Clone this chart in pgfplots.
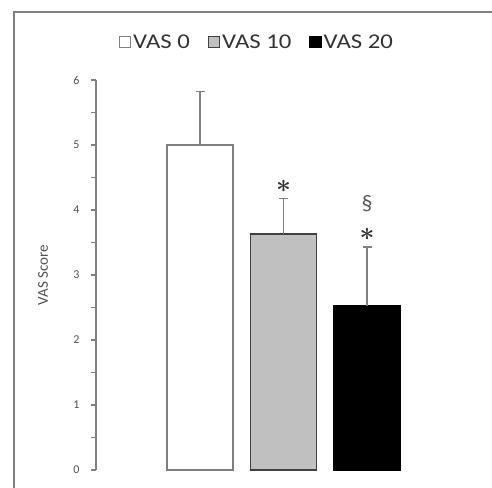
\documentclass[border=0pt]{standalone}
\usepackage{pgfplots}
\pgfplotsset{compat=1.18}
\usepackage{graphicx}
\usepackage{fontspec}
\setmainfont{Carlito}
\newfontfamily\legfont[FakeStretch=1.18]{Carlito}
\definecolor{framegray}{HTML}{808080}
\definecolor{bargray}{HTML}{C0C0C0}
\definecolor{txtgray}{HTML}{505050}
\begin{document}
\begin{tikzpicture}
\useasboundingbox (0,0) rectangle (492bp,488bp);
\draw[framegray, line width=1.6bp] (14bp,-10bp) -- (14bp,476bp) -- (510bp,476bp);
\begin{axis}[
  at={(96bp,18bp)}, anchor=south west,
  scale only axis, width=374bp, height=390bp,
  xmin=-1.2455, xmax=3.2335, ymin=0, ymax=6,
  axis x line=none, axis y line*=left,
  y axis line style={framegray, line width=1.2bp, -},
  ytick={0,1,2,3,4,5,6}, minor ytick={0.5,1.5,2.5,3.5,4.5,5.5},
  tick align=outside, major tick length=5bp, minor tick length=5bp,
  every tick/.style={framegray, line width=1.2bp},
  minor tick style={framegray, line width=1.2bp},
  yticklabel style={font=\fontsize{12bp}{14bp}\selectfont, text=txtgray, xshift=-8bp},
  /pgf/number format/assume math mode=true,
  ylabel={VAS Score},
  every axis y label/.style={at={(rel axis cs:0,0.5)}, rotate=90, anchor=center, yshift=53bp, font=\fontsize{15bp}{17bp}\selectfont, text=txtgray},
  ybar, bar width=66bp, bar shift=0pt,
  legend columns=3,
  legend style={draw=none, fill=none, at={(rel axis cs:0.4305,1.097)}, anchor=center,
    font=\legfont\fontsize{21bp}{23bp}\selectfont, text=black!80,
    /tikz/every even column/.append style={column sep=16bp}},
  legend image code/.code={\draw[#1, line width=1.2bp] (0bp,-5.5bp) rectangle (11bp,5.5bp);},
  error bars/y dir=plus, error bars/y explicit,
  error bars/error bar style={framegray, line width=1.2bp},
  error bars/error mark options={rotate=90, mark size=4.5bp, framegray, line width=1.2bp},
  clip=false,
]
\addplot[draw=framegray, fill=white, line width=1.6bp] coordinates {(0,5.0) +- (0,0.82)};
\addlegendentry{VAS 0}
\addplot[draw=black!75, fill=bargray, line width=1.6bp] coordinates {(1,3.63) +- (0,0.55)};
\addlegendentry{VAS 10}
\addplot[draw=black, fill=black, line width=1.6bp] coordinates {(2,2.53) +- (0,0.90)};
\addlegendentry{VAS 20}
\node[text=black!80, inner sep=0pt] at (axis cs:1,4.37) {\scalebox{2.6}{\boldmath$\ast$}};
\node[text=black!80, inner sep=0pt] at (axis cs:2,3.63) {\scalebox{2.6}{\boldmath$\ast$}};
\node[text=black!65, font=\fontsize{22bp}{22bp}\selectfont, inner sep=0pt] at (axis cs:2,4.1) {\S};
\end{axis}
\end{tikzpicture}
\end{document}
